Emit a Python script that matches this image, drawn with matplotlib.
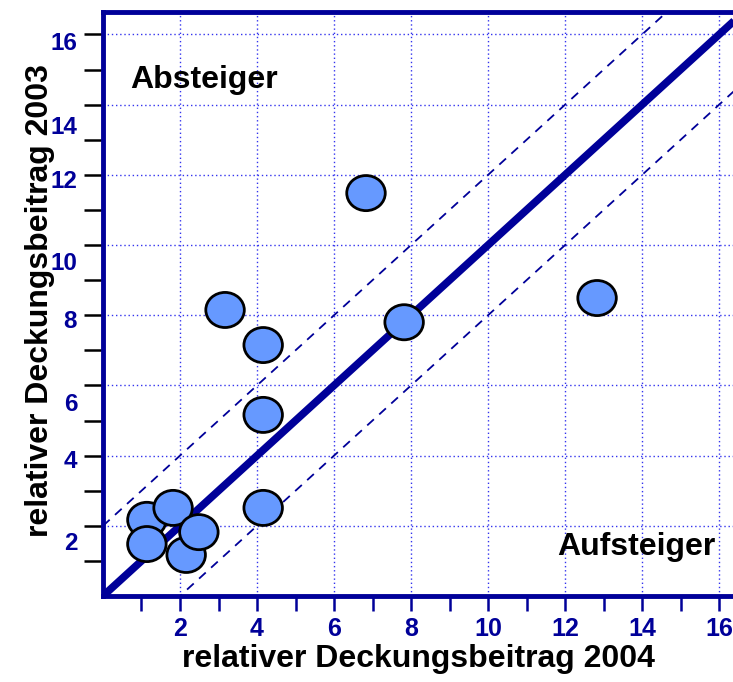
import matplotlib
matplotlib.use('Agg')
import matplotlib.pyplot as plt
from matplotlib.patches import Ellipse
from matplotlib.transforms import blended_transform_factory

plt.rcParams['font.family'] = ['Liberation Sans', 'DejaVu Sans']

# relative contribution margin per product: 2004 (x) vs 2003 (y)
x2004 = [1.14, 1.82, 1.14, 2.16, 2.49, 4.16, 4.16, 4.16, 3.17, 7.82, 6.83, 12.83]
y2003 = [2.17, 2.51, 1.48, 1.17, 1.82, 2.51, 5.16, 7.15, 8.15, 7.80, 11.48, 8.49]

xticks = [2, 4, 6, 8, 10, 12, 14, 16]
yticks = [2, 4, 6, 8, 10, 12, 14, 16]
# the y labels in the original sit a little below their gridlines
ylabel_at = [1.51, 3.82, 5.47, 7.82, 9.46, 11.8, 13.34, 15.73]
band = 2  # dashed lines at y = x +/- band

navy = '#000099'
gridc = '#3333ee'

fig = plt.figure(figsize=(7.33, 6.82), dpi=100)
ax = fig.add_axes([0.1405, 0.1261, 0.8595, 0.8563])
ax.set_xlim(0, 16.36)
ax.set_ylim(0, 16.64)

for v in xticks:
    ax.axvline(v, color=gridc, lw=1.0, ls=(0, (1, 2)), zorder=1)
for v in yticks:
    ax.axhline(v, color=gridc, lw=1.0, ls=(0, (1, 2)), zorder=1)

lim = [0, 17]
ax.plot(lim, lim, color=navy, lw=5.5, solid_capstyle='butt', zorder=2)
ax.plot(lim, [v + band for v in lim], color=navy, lw=1.3, ls=(0, (5, 4)), zorder=2)
ax.plot(lim, [v - band for v in lim], color=navy, lw=1.3, ls=(0, (5, 4)), zorder=2)

for x, y in zip(x2004, y2003):
    ax.add_patch(Ellipse((x, y), 1.0, 1.0, facecolor='#6699ff',
                         edgecolor='black', lw=2, zorder=3))

for s in ['left', 'bottom', 'top']:
    ax.spines[s].set_color(navy)
    ax.spines[s].set_linewidth(3.5)
ax.spines['right'].set_visible(False)

ax.set_xticks(range(1, 17))
ax.set_xticklabels([str(v) if v in xticks else '' for v in range(1, 17)],
                   fontsize=18, fontweight='bold', color=navy)
ax.tick_params(axis='x', colors=navy, length=11, width=1.8, pad=4,
               labelcolor=navy)
ax.set_yticks(range(1, 17))
ax.set_yticklabels([])
ax.tick_params(axis='y', color='black', length=14, width=1.8)

tr = blended_transform_factory(ax.transAxes, ax.transData)
for v, p in zip(yticks, ylabel_at):
    ax.text(-0.041, p, str(v), transform=tr, ha='right', va='center',
            fontsize=17.5, fontweight='bold', color=navy)

ax.set_xlabel('relativer Deckungsbeitrag 2004', fontsize=23,
              fontweight='bold', labelpad=2)
fig.text(0.055, 0.56, 'relativer Deckungsbeitrag 2003', rotation=90,
         ha='center', va='center', fontsize=23, fontweight='bold')

ax.text(0.7, 14.7, 'Absteiger', ha='left', va='center',
        fontsize=23, fontweight='bold')
ax.text(15.9, 1.4, 'Aufsteiger', ha='right', va='center',
        fontsize=23, fontweight='bold')

fig.savefig('out.png', dpi=100)
